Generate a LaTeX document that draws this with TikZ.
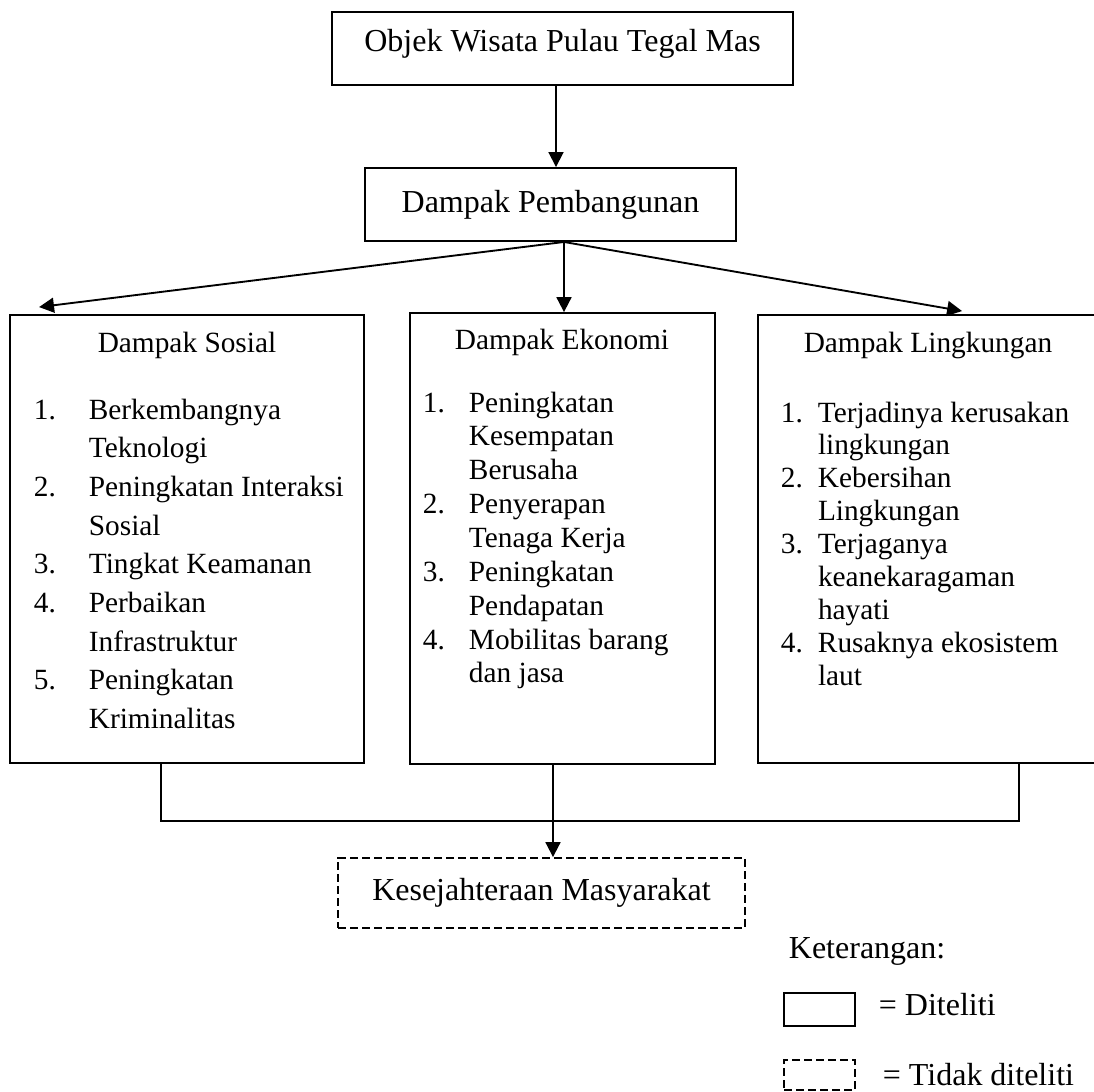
\documentclass[tikz,border=0pt]{standalone}
\usepackage{fontspec}
\setmainfont{Liberation Serif}
\usetikzlibrary{arrows.meta}
\usetikzlibrary{calc}

\newcommand{\itemfont}[1]{\fontsize{11pt}{#1}\selectfont}

\begin{document}
\begin{tikzpicture}[x=0.375pt,y=-0.375pt,line width=0.7pt,
    box/.style={draw,rectangle,inner sep=0pt,font=\fontsize{12pt}{14pt}\selectfont},
    dashbox/.style={box,dash pattern=on 3pt off 1.5pt},
    lbl/.style={inner sep=0pt,font=\fontsize{12pt}{14pt}\selectfont},
    arr/.style={-{Triangle[length=5.6pt,width=5.6pt]}}]
      \useasboundingbox (0,0) rectangle (1094,1091);
      \clip (0,0) rectangle (1094,1091);

      \node[box,minimum width=172.9pt,minimum height=27.4pt,text height=8pt,text depth=6pt] (obj) at (562.5,48.5) {Objek Wisata Pulau Tegal Mas};
      \node[box,minimum width=139.1pt,minimum height=27.4pt] (dp) at (550.5,204.5) {Dampak Pembangunan};

      \node[box,minimum width=132.75pt,minimum height=168pt] (sos) at (187,539) {};
      \node[box,minimum width=114.4pt,minimum height=169.1pt] (eko) at (562.5,538.5) {};
      \node[box,minimum width=135pt,minimum height=168pt] (ling) at (938,539) {};

      \node[anchor=base,inner sep=0pt,font=\itemfont{13pt}] (sosT) at (187,352) {Dampak Sosial};
      \node[anchor=base,inner sep=0pt,font=\itemfont{13pt}] (ekoT) at (562,349) {Dampak Ekonomi};
      \node[anchor=base,inner sep=0pt,font=\itemfont{13pt}] (lingT) at (928,352) {Dampak Lingkungan};

      \node[anchor=base west,inner sep=0pt,font=\itemfont{14.5pt}] (sosL) at (33,419) {%
        \begin{tabular}[t]{@{}p{20.6pt}@{}l@{}}
          1. & Berkembangnya\\
             & Teknologi\\
          2. & Peningkatan Interaksi\\
             & Sosial\\
          3. & Tingkat Keamanan\\
          4. & Perbaikan\\
             & Infrastruktur\\
          5. & Peningkatan\\
             & Kriminalitas
        \end{tabular}};
      \node[anchor=base west,inner sep=0pt,font=\itemfont{12.7pt}] (ekoL) at (422,412) {%
        \begin{tabular}[t]{@{}p{17.25pt}@{}l@{}}
          1. & Peningkatan\\
             & Kesempatan\\
             & Berusaha\\
          2. & Penyerapan\\
             & Tenaga Kerja\\
          3. & Peningkatan\\
             & Pendapatan\\
          4. & Mobilitas barang\\
             & dan jasa
        \end{tabular}};
      \node[anchor=base west,inner sep=0pt,font=\itemfont{12.33pt}] (lingL) at (780,422) {%
        \begin{tabular}[t]{@{}p{13.9pt}@{}l@{}}
          1. & Terjadinya kerusakan\\
             & lingkungan\\
          2. & Kebersihan\\
             & Lingkungan\\
          3. & Terjaganya\\
             & keanekaragaman\\
             & hayati\\
          4. & Rusaknya ekosistem\\
             & laut
        \end{tabular}};

      \node[dashbox,minimum width=152.6pt,minimum height=26.25pt] (kes) at (541.5,893) {Kesejahteraan Masyarakat};

      \coordinate (fork) at ($(dp.south)+(13.5,0)$);
      \draw[arr] ($(obj.south)+(-6.5,0)$) -- ($(dp.north)+(5.5,0)$);
      \draw[arr] (fork) -- ($(sos.north west)+(30,-7)$);
      \draw[arr] (fork) -- (fork |- eko.north);
      \draw[arr] (fork) -- ($(ling.north west)+(205,-3)$);

      \draw ($(sos.south)+(-26,0)$) -- ++(0,57) -| ($(ling.south)+(81,0)$);
      \coordinate (drop) at ($(eko.south)+(-9.5,0)$);
      \draw[arr] (drop) -- (drop |- kes.north);

      \node[lbl,anchor=base west] (ket) at (788,958) {Keterangan:};
      \node[box,minimum width=26.6pt,minimum height=12.4pt] (legA) at (819.5,1009.5) {};
      \node[lbl,anchor=base west] (legAtxt) at (878,1015) {= Diteliti};
      \node[dashbox,minimum width=26.6pt,minimum height=11.25pt] (legB) at (819.5,1075) {};
      \node[lbl,anchor=base west] (legBtxt) at (882,1085) {= Tidak diteliti};
\end{tikzpicture}
\end{document}
